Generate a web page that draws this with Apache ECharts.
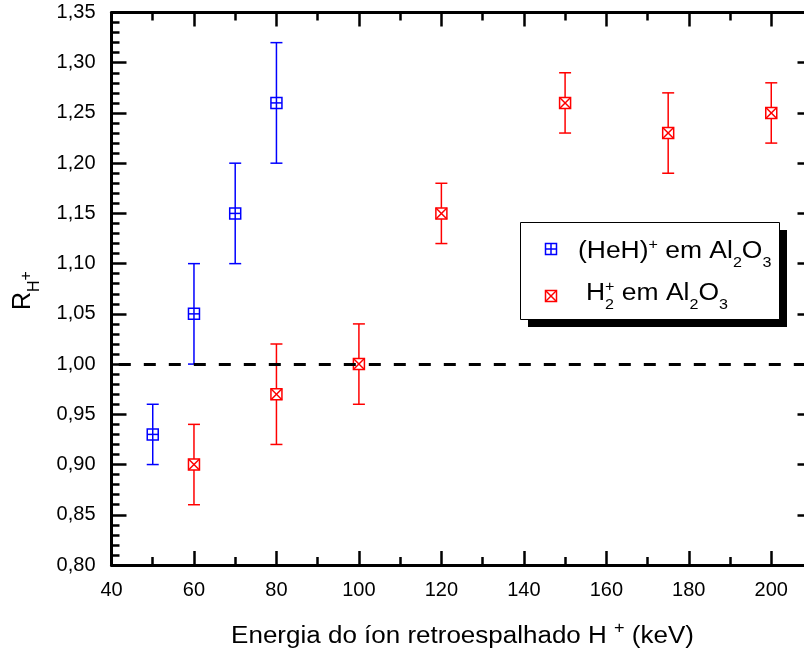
<!DOCTYPE html>
<html>
<head>
<meta charset="utf-8">
<script src="https://cdn.jsdelivr.net/npm/echarts@6/dist/echarts.min.js"></script>
<style>
  html, body { margin: 0; padding: 0; background: #fff; }
  #chart { width: 804px; height: 657px; }
</style>
</head>
<body>
<div id="chart"></div>
<script>
const FONT = '"Liberation Sans", Arial, Helvetica, sans-serif';

// (HeH)+ em Al2O3 : energy (keV), ratio and error-bar limits
const heHEnergy = [50, 60, 70, 80];
const heHRatio  = [0.93, 1.05, 1.15, 1.26];
const heHLow    = [0.90, 1.00, 1.10, 1.20];
const heHHigh   = [0.96, 1.10, 1.20, 1.32];

// H2+ em Al2O3
const h2Energy = [60, 80, 100, 120, 150, 175, 200];
const h2Ratio  = [0.90, 0.97, 1.00, 1.15, 1.26, 1.23, 1.25];
const h2Low    = [0.86, 0.92, 0.96, 1.12, 1.23, 1.19, 1.22];
const h2High   = [0.94, 1.02, 1.04, 1.18, 1.29, 1.27, 1.28];

// axis ticks
const energyTicks = [40, 60, 80, 100, 120, 140, 160, 180, 200];
const ratioTicks  = [0.80, 0.85, 0.90, 0.95, 1.00, 1.05, 1.10, 1.15, 1.20, 1.25, 1.30, 1.35];
const energyMin = 40, energyMax = 210;
const ratioMin = 0.80, ratioMax = 1.35;
const referenceRatio = 1.00;

const BLUE = '#0000ff';
const RED = '#ff0000';
const BLACK = '#000000';

// square marker with a "+" or an "x" inside
function markerShapes(cx, cy, color, kind, z) {
  const h = 5.5;
  const st = () => ({ stroke: color, lineWidth: 1.5, fill: 'none' });
  const els = [{ type: 'rect', shape: { x: cx - h, y: cy - h, width: 2 * h, height: 2 * h }, style: st() }];
  if (kind === 'plus') {
    els.push({ type: 'line', shape: { x1: cx - h, y1: cy, x2: cx + h, y2: cy }, style: st() });
    els.push({ type: 'line', shape: { x1: cx, y1: cy - h, x2: cx, y2: cy + h }, style: st() });
  } else {
    els.push({ type: 'line', shape: { x1: cx - h, y1: cy - h, x2: cx + h, y2: cy + h }, style: st() });
    els.push({ type: 'line', shape: { x1: cx + h, y1: cy - h, x2: cx - h, y2: cy + h }, style: st() });
  }
  if (z != null) els.forEach(e => { e.z = z; });
  return els;
}

function ratioSeries(name, energy, ratio, low, high, color, kind) {
  return {
    type: 'custom',
    name,
    xAxisIndex: 0,
    yAxisIndex: 0,
    data: energy.map((e, i) => [e, ratio[i], low[i], high[i]]),
    encode: { x: 0, y: [1, 2, 3] },
    renderItem(params, api) {
      const e = api.value(0);
      const c = api.coord([e, api.value(1)]);
      const lo = api.coord([e, api.value(2)]);
      const hi = api.coord([e, api.value(3)]);
      const cap = 6, h = 5.5;
      const bar = () => ({ stroke: color, lineWidth: 1.5 });
      return {
        type: 'group',
        children: [
          { type: 'line', shape: { x1: c[0], y1: hi[1], x2: c[0], y2: c[1] - h }, style: bar() },
          { type: 'line', shape: { x1: c[0], y1: c[1] + h, x2: c[0], y2: lo[1] }, style: bar() },
          { type: 'line', shape: { x1: c[0] - cap, y1: hi[1], x2: c[0] + cap, y2: hi[1] }, style: bar() },
          { type: 'line', shape: { x1: c[0] - cap, y1: lo[1], x2: c[0] + cap, y2: lo[1] }, style: bar() }
        ].concat(markerShapes(c[0], c[1], color, kind))
      };
    }
  };
}

function xAxisMajor(position, showLabels, showLine) {
  return {
    type: 'value', position, min: energyMin, max: energyMax, interval: 20,
    axisLine: { show: showLine, onZero: false, lineStyle: { color: BLACK, width: 3 } },
    axisTick: { show: true, inside: true, length: 14, lineStyle: { color: BLACK, width: 2.5 } },
    axisLabel: {
      show: showLabels, customValues: energyTicks, margin: 15,
      fontSize: 20, fontFamily: FONT, color: BLACK
    },
    splitLine: { show: false }
  };
}
function xAxisMinor(position) {
  return {
    type: 'value', position, min: energyMin, max: energyMax, interval: 10,
    axisLine: { show: false, onZero: false },
    axisTick: { show: true, inside: true, length: 8, lineStyle: { color: BLACK, width: 2.5 } },
    axisLabel: { show: false },
    splitLine: { show: false }
  };
}
function yAxisDef(position, showLabels) {
  return {
    type: 'value', position, min: ratioMin, max: ratioMax, interval: 0.05,
    axisLine: { show: true, onZero: false, lineStyle: { color: BLACK, width: 3 } },
    axisTick: { show: true, inside: true, length: 15, lineStyle: { color: BLACK, width: 2.5 } },
    minorTick: { show: true, splitNumber: 5, length: 8, lineStyle: { color: BLACK, width: 2.5 } },
    axisLabel: {
      show: showLabels, customValues: ratioTicks, margin: 16,
      fontSize: 20, fontFamily: FONT, color: BLACK,
      formatter: v => Number(v).toFixed(2).replace('.', ',')
    },
    splitLine: { show: false }
  };
}

// text made of runs with sub/superscripts
const measureCtx = document.createElement('canvas').getContext('2d');
function measure(text, size) {
  measureCtx.font = size + 'px ' + FONT;
  return measureCtx.measureText(text).width;
}
function textRun(parts, baseSize, z) {
  let cursor = 0;
  const children = [];
  for (const p of parts) {
    const size = p.size || baseSize;
    children.push({
      type: 'text', x: cursor, y: (p.dy || 0) - 0.345 * size, z,
      style: {
        text: p.t, font: size + 'px ' + FONT, fill: BLACK,
        align: 'left', verticalAlign: 'middle', textAlign: 'left', textVerticalAlign: 'middle'
      }
    });
    if (!p.stack) cursor += measure(p.t, size);
  }
  return { children, width: cursor };
}

const xTitle = textRun([
  { t: 'Energia do íon retroespalhado H ' },
  { t: '+', size: 16, dy: -11 },
  { t: ' (keV)' }
], 23, 110);
const xTitleScale = 1.13;

const yTitle = textRun([
  { t: 'R', size: 25 },
  { t: 'H', size: 16, dy: 8 },
  { t: '+', size: 16, dy: 0 }
], 25, 110);

const legendRow1 = textRun([
  { t: '(HeH)' },
  { t: '+', size: 14, dy: -10 },
  { t: ' em Al' },
  { t: '2', size: 14, dy: 8 },
  { t: 'O' },
  { t: '3', size: 14, dy: 8 }
], 23, 112);
const legendRow2 = textRun([
  { t: 'H' },
  { t: '2', size: 14, dy: 8, stack: true },
  { t: '+', size: 14, dy: -10 },
  { t: ' em Al' },
  { t: '2', size: 14, dy: 8 },
  { t: 'O' },
  { t: '3', size: 14, dy: 8 }
], 23, 112);
const legendScale = 1.15;

const chart = echarts.init(document.getElementById('chart'), null, { renderer: 'canvas' });

const series = [
  ratioSeries('(HeH)+ em Al2O3', heHEnergy, heHRatio, heHLow, heHHigh, BLUE, 'plus'),
  ratioSeries('H2+ em Al2O3', h2Energy, h2Ratio, h2Low, h2High, RED, 'cross')
];
series[0].markLine = {
  silent: true,
  animation: false,
  symbol: ['none', 'none'],
  label: { show: false },
  emphasis: { disabled: true },
  lineStyle: { color: BLACK, width: 3, type: [12, 13], dashOffset: 17.7 },
  data: [{ yAxis: referenceRatio }]
};

chart.setOption({
  animation: false,
  backgroundColor: '#ffffff',
  grid: { left: 111.5, top: 12.5, width: 701, height: 552.5, containLabel: false, outerBoundsMode: 'none' },
  xAxis: [
    xAxisMajor('bottom', true, true),
    xAxisMinor('bottom'),
    xAxisMajor('top', false, true),
    xAxisMinor('top')
  ],
  yAxis: [
    yAxisDef('left', true),
    yAxisDef('right', false)
  ],
  series,
  graphic: [
    // legend box with drop shadow
    { type: 'rect', z: 100, shape: { x: 528, y: 230, width: 259, height: 97 }, style: { fill: BLACK } },
    { type: 'rect', z: 101, shape: { x: 520.5, y: 222.5, width: 259, height: 97 },
      style: { fill: '#ffffff', stroke: BLACK, lineWidth: 1 } },
    { type: 'group', z: 112, children: markerShapes(551, 249, BLUE, 'plus', 112) },
    { type: 'group', z: 112, children: markerShapes(551, 296, RED, 'cross', 112) },
    { type: 'group', z: 112, x: 578, y: 260, scaleX: legendScale, children: legendRow1.children },
    { type: 'group', z: 112, x: 586, y: 301.5, scaleX: legendScale, children: legendRow2.children },
    // axis titles
    { type: 'group', z: 110, x: 462.5 - xTitle.width * xTitleScale / 2, y: 645, scaleX: xTitleScale,
      children: xTitle.children },
    { type: 'group', z: 110, x: 32, y: 310, rotation: Math.PI / 2, children: yTitle.children }
  ]
});
</script>
</body>
</html>
